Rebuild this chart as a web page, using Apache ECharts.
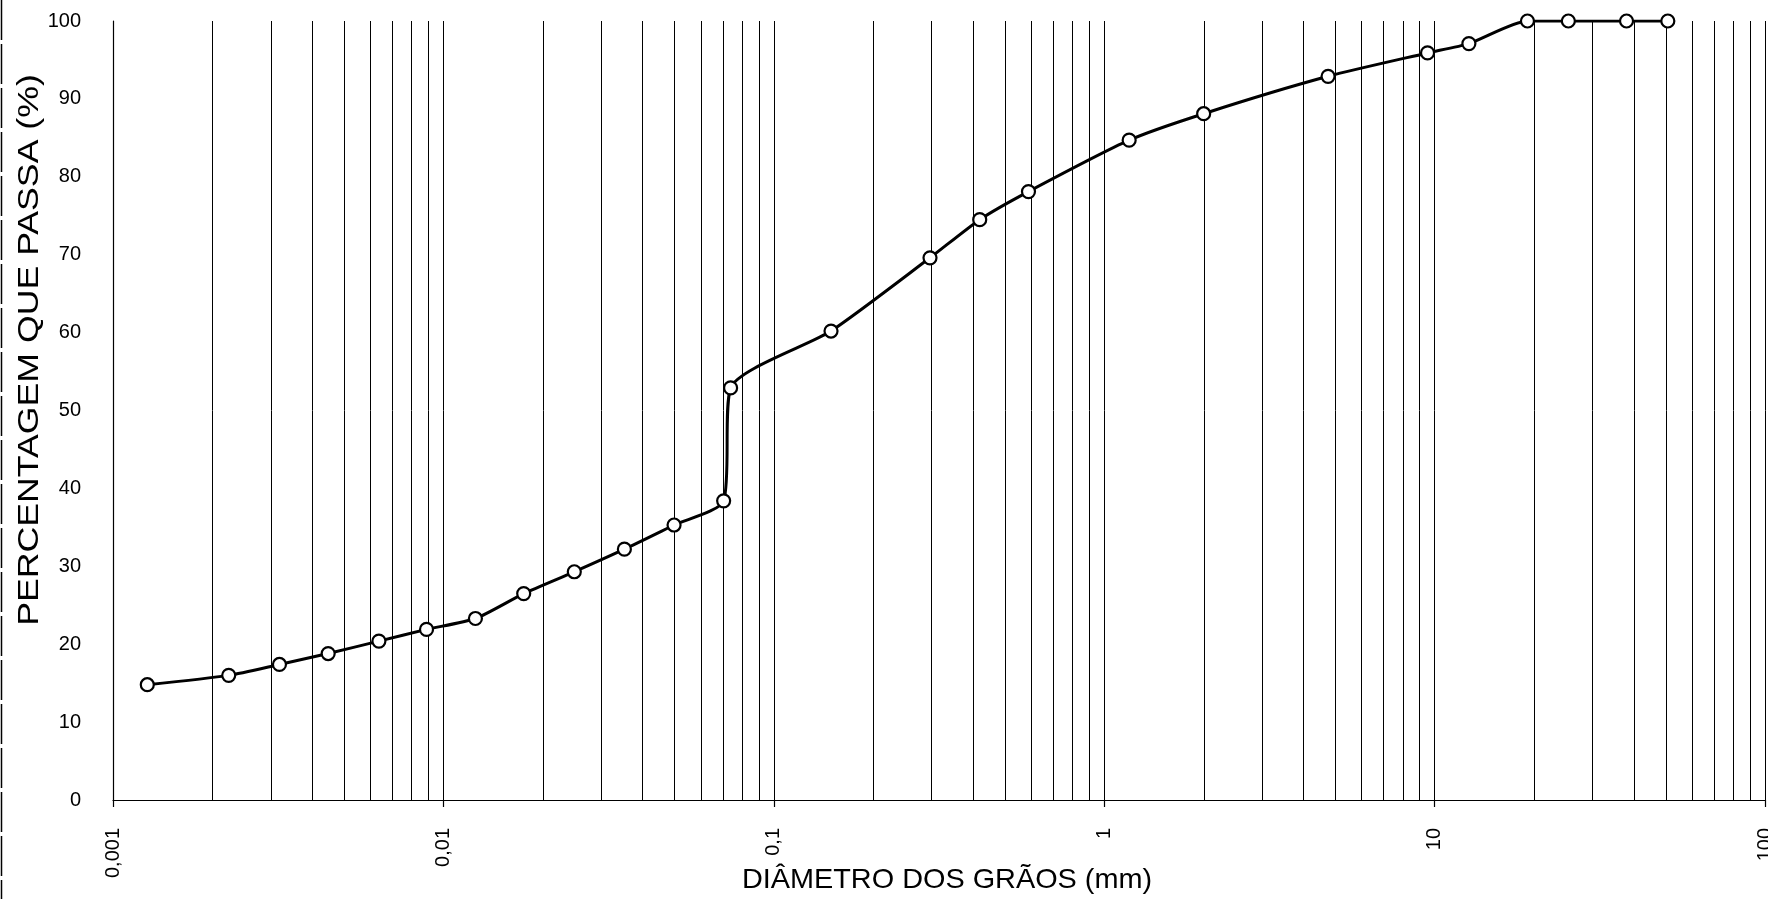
<!DOCTYPE html>
<html>
<head>
<meta charset="utf-8">
<title>Curva granulométrica</title>
<script src="https://cdn.jsdelivr.net/npm/echarts@6/dist/echarts.min.js"></script>
<style>
  html, body { margin: 0; padding: 0; background: #fff; }
  #chart { width: 1768px; height: 899px; }
</style>
</head>
<body>
<div id="chart"></div>
<script>
// Grain diameters (mm): sedimentation readings followed by the sieve series
const diametros = [
  0.00127, 0.00224, 0.00319, 0.00448, 0.00638, 0.00889, 0.0125, 0.0175,
  0.0249, 0.0353, 0.0499, 0.0705,
  0.074, 0.149, 0.297, 0.42, 0.59, 1.19, 2.0, 4.76, 9.52, 12.7,
  19.1, 25.4, 38.1, 50.8
];
// Percentage passing for each diameter
const passante = [
  14.8, 16.0, 17.4, 18.8, 20.4, 21.9, 23.3, 26.5,
  29.3, 32.2, 35.3, 38.4,
  52.9, 60.2, 69.6, 74.5, 78.1, 84.7, 88.1, 92.9, 95.9, 97.1,
  100, 100, 100, 100
];
// Labels shown at each decade of the log axis
const rotulosX = ['0,001', '0,01', '0,1', '1', '10', '100'];
const tituloX = 'DIÂMETRO DOS GRÃOS (mm)';
const tituloY = 'PERCENTAGEM QUE PASSA (%)';
const decadaMin = -3, decadaMax = 2;
// Intermediate 2..9 lines inside each decade
const multiplos = [2, 3, 4, 5, 6, 7, 8, 9];

const linhasSecundarias = [];
for (let d = decadaMin; d < decadaMax; d++) {
  for (const m of multiplos) linhasSecundarias.push([m * Math.pow(10, d), 0]);
}

const fonte = '"Liberation Sans", Arial, sans-serif';
const chart = echarts.init(document.getElementById('chart'));

chart.setOption({
  animation: false,
  backgroundColor: '#fff',
  grid: {
    left: 113, right: 3, top: 21, bottom: 99,
    containLabel: false,
    outerBoundsMode: 'none'
  },
  xAxis: {
    type: 'log',
    logBase: 10,
    min: Math.pow(10, decadaMin),
    max: Math.pow(10, decadaMax),
    splitNumber: 5,
    axisLine: { show: true, lineStyle: { color: '#000', width: 1.2 } },
    axisTick: { show: true, length: 7, lineStyle: { color: '#000', width: 1.2 } },
    minorTick: { show: false },
    splitLine: { show: true, lineStyle: { color: '#000', width: 1 } },
    axisLabel: {
      rotate: 90,
      margin: 28,
      fontFamily: fonte,
      fontSize: 20,
      color: '#000',
      formatter: function (v) {
        return rotulosX[Math.round(Math.log10(v)) - decadaMin];
      }
    }
  },
  yAxis: {
    type: 'value',
    min: 0,
    max: 100,
    interval: 10,
    axisLine: { show: true, lineStyle: { color: '#000', width: 1.2 } },
    axisTick: { show: false },
    splitLine: { show: false },
    axisLabel: { margin: 32, fontFamily: fonte, fontSize: 20, color: '#000' }
  },
  graphic: [
    {
      // vertical axis title
      type: 'text',
      x: 30,
      y: 350,
      rotation: Math.PI / 2,
      scaleX: 1.23,
      style: {
        text: tituloY,
        fontFamily: fonte,
        fontSize: 29,
        fill: '#000',
        align: 'center',
        verticalAlign: 'middle'
      }
    },
    {
      // horizontal axis title
      type: 'text',
      x: 947,
      y: 880,
      scaleX: 1.03,
      style: {
        text: tituloX,
        fontFamily: fonte,
        fontSize: 28,
        fill: '#000',
        align: 'center',
        verticalAlign: 'middle'
      }
    },
    {
      type: 'line',
      shape: { x1: 1.5, y1: 0, x2: 1.5, y2: 899 },
      style: { stroke: '#000', lineWidth: 1.5, lineDash: [40, 4] }
    }
  ],
  series: [
    {
      // intermediate 2..9 lines of the log grid, full plot height
      type: 'custom',
      z: 1,
      silent: true,
      encode: { x: 0, y: 1 },
      data: linhasSecundarias,
      renderItem: function (params, api) {
        const v = api.value(0);
        const base = api.coord([v, 0]);
        const topo = api.coord([v, 100]);
        const x = Math.round(base[0]) + 0.5;
        return {
          type: 'line',
          shape: { x1: x, y1: base[1], x2: x, y2: topo[1] },
          style: { stroke: '#000', lineWidth: 1 }
        };
      }
    },
    {
      name: 'Granulometria',
      type: 'line',
      z: 5,
      smooth: 0.22,
      data: diametros.map((d, i) => [d, passante[i]]),
      symbol: 'circle',
      symbolSize: 13,
      lineStyle: { color: '#000', width: 3 },
      itemStyle: { color: '#fff', borderColor: '#000', borderWidth: 2.2 }
    }
  ]
});
</script>
</body>
</html>
